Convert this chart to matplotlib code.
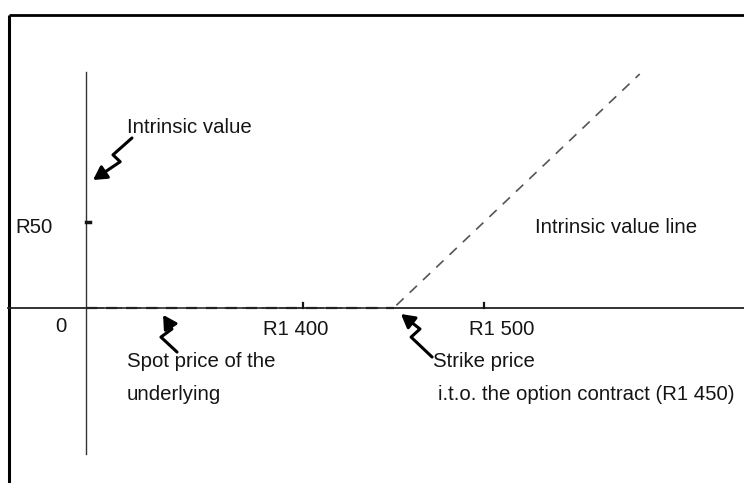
import matplotlib
matplotlib.use("Agg")
import matplotlib.pyplot as plt
from matplotlib.patches import FancyArrowPatch
from matplotlib.path import Path

plt.rcParams['font.family'] = ['Liberation Sans', 'DejaVu Sans']

# ---- data ----
strike = 1450
origin_price = 1280
line_x = [origin_price, strike, 1586]
line_y = [0, 0, 136]
x_ticks = [1400, 1500]
x_tick_labels = ["R1 400", "R1 500"]
y_ticks = [50]
y_tick_labels = ["R50"]

W, H = 744, 483
fig = plt.figure(figsize=(W / 100, H / 100), dpi=100)
ax = fig.add_axes([0, 0, 1, 1])
ax.set_xlim(1232.6, 1643.6)
ax.set_ylim(-101.7, 179)
ax.axis('off')

FS = 14.7
ink = '#151515'

# outer frame (left and top)
ax.plot([0.012, 0.012], [0.0, 0.969], transform=ax.transAxes, color='black', lw=2.2, solid_capstyle='butt')
ax.plot([0.012, 1.0], [0.969, 0.969], transform=ax.transAxes, color='black', lw=2.0, solid_capstyle='butt')

# axes
ax.plot([1237, 1643.6], [0, 0], color='#222222', lw=1.3)
ax.plot([origin_price, origin_price], [-85, 137], color='#333333', lw=1.0)

# intrinsic value line (dashed)
ax.plot(line_x, line_y, color='#555555', lw=1.2, dashes=(6, 5))
ax.plot(line_x[:2], line_y[:2], color='#222222', lw=1.6, dashes=(5, 4))

# ticks
for xv, lab, dx in zip(x_ticks, x_tick_labels, [-4, 9.5]):
    ax.plot([xv, xv], [0, 2.8], color=ink, lw=1.6)
    ax.text(xv + dx, -7, lab, fontsize=FS, ha='center', va='top', color=ink)
for yv, lab in zip(y_ticks, y_tick_labels):
    ax.plot([origin_price, origin_price + 2.5], [yv, yv], color=ink, lw=2.5)
    ax.text(origin_price - 18.5, yv - 3, lab, fontsize=FS, ha='right', va='center', color=ink)
ax.text(origin_price - 14, -10.5, "0", fontsize=FS, ha='center', va='center', color=ink)

# labels
ax.text(origin_price + 22.5, 105, "Intrinsic value", fontsize=FS, ha='left', va='center', color=ink)
ax.text(1528, 47, "Intrinsic value line", fontsize=FS, ha='left', va='center', color=ink)
ax.text(origin_price + 22.5, -31, "Spot price of the", fontsize=FS, ha='left', va='center', color=ink)
ax.text(origin_price + 22.5, -50, "underlying", fontsize=FS, ha='left', va='center', color=ink)
ax.text(strike + 22, -31, "Strike price", fontsize=FS, ha='left', va='center', color=ink)
ax.text(strike + 24.5, -50, "i.t.o. the option contract (R1 450)", fontsize=FS, ha='left', va='center', color=ink)


def zigzag(pts):
    codes = [Path.MOVETO] + [Path.LINETO] * (len(pts) - 1)
    p = FancyArrowPatch(path=Path(pts, codes), arrowstyle='-|>,head_length=8,head_width=4.5',
                        color='black', lw=2.2, joinstyle='round', capstyle='round')
    ax.add_patch(p)


# zigzag pointers (data coordinates)
zigzag([(1305.5, 98.8), (1295, 89), (1299, 85), (1284, 74.4)])
zigzag([(1330.4, -25.6), (1321.5, -16.9), (1327.6, -12.2), (1322.7, -4.0)])
zigzag([(1471.3, -28.5), (1459.7, -16.9), (1464.6, -12.2), (1454.1, -3.5)])

fig.savefig("out.png", dpi=100)
